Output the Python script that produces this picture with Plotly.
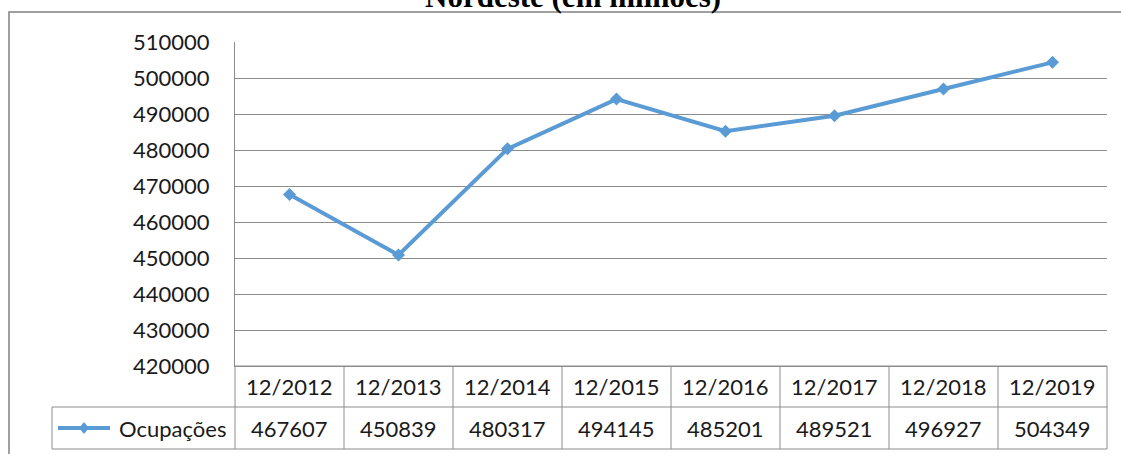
import plotly.graph_objects as go

categories = ["12/2012", "12/2013", "12/2014", "12/2015", "12/2016", "12/2017", "12/2018", "12/2019"]
ocupacoes = [467607, 450839, 480317, 494145, 485201, 489521, 496927, 504349]
series_name = "Ocupações"
title_text = "Nordeste (em milhões)"
y_min, y_max, y_step = 420000, 510000, 10000

W, H = 1121, 454
L, R, T, B = 235, 1107, 42, 366
PW, PH = R - L, B - T

def px(xp):
    return (xp - L) / PW

def py(yp):
    return (B - yp) / PH

BLUE = "#5B9BD5"
GRID = "#8c8c8c"
FRAME = "#808080"
TXT = "#1a1a1a"
FONT = "Lato"

fig = go.Figure()
fig.add_trace(go.Scatter(
    x=categories, y=ocupacoes, mode="lines+markers", name=series_name,
    line=dict(color=BLUE, width=4),
    marker=dict(symbol="diamond", size=10, color=BLUE),
    showlegend=False, hoverinfo="skip",
))

n = len(categories)
row1_top, row1_bot, row2_bot = 366, 407, 449
leg_left = 52
shapes = []
line_style = dict(color=GRID, width=1)
# frame
shapes.append(dict(type="rect", xref="paper", yref="paper",
                   x0=px(9), x1=px(W + 10), y0=py(H + 10), y1=py(12),
                   line=dict(color=FRAME, width=1.5), layer="below"))
# table horizontal lines
shapes.append(dict(type="line", xref="paper", yref="paper", x0=0, x1=1, y0=py(row1_top), y1=py(row1_top), line=line_style))
for yy in (row1_bot, row2_bot):
    shapes.append(dict(type="line", xref="paper", yref="paper", x0=px(leg_left), x1=1, y0=py(yy), y1=py(yy), line=line_style))
# verticals
shapes.append(dict(type="line", xref="paper", yref="paper", x0=px(leg_left), x1=px(leg_left), y0=py(row1_bot), y1=py(row2_bot), line=line_style))
for k in range(n + 1):
    shapes.append(dict(type="line", xref="paper", yref="paper", x0=k / n, x1=k / n, y0=py(row1_top), y1=py(row2_bot), line=line_style))
# legend symbol
leg_y = py((row1_bot + row2_bot) / 2)
shapes.append(dict(type="line", xref="paper", yref="paper", x0=px(58), x1=px(110), y0=leg_y, y1=leg_y,
                   line=dict(color=BLUE, width=4)))
shapes.append(dict(type="path", xref="paper", yref="paper", xsizemode="pixel", ysizemode="pixel",
                   xanchor=px(84), yanchor=leg_y, path="M0,6 L5,0 L0,-6 L-5,0 Z",
                   fillcolor=BLUE, line=dict(color=BLUE, width=0)))

annotations = []
for c, v in zip(categories, ocupacoes):
    annotations.append(dict(x=c, xref="x", xanchor="center", y=py((row1_top + row1_bot) / 2), yref="paper",
                            yanchor="middle", text=c, showarrow=False,
                            font=dict(family=FONT, size=22, color=TXT)))
    annotations.append(dict(x=c, xref="x", xanchor="center", y=py((row1_bot + row2_bot) / 2), yref="paper",
                            yanchor="middle", text=str(v), showarrow=False,
                            font=dict(family=FONT, size=22, color=TXT)))
annotations.append(dict(x=px(228), xref="paper", xanchor="right", y=py((row1_bot + row2_bot) / 2), yref="paper",
                        yanchor="middle", text=series_name, showarrow=False,
                        font=dict(family=FONT, size=22, color=TXT)))
annotations.append(dict(x=px(573), xref="paper", xanchor="center", y=py(16), yref="paper", yanchor="bottom",
                        text="<b>" + title_text + "</b>", showarrow=False,
                        font=dict(family="Liberation Serif", size=31, color="#000000")))

fig.update_layout(
    width=W, height=H,
    margin=dict(l=L, r=W - R, t=T, b=H - B, pad=0),
    paper_bgcolor="white", plot_bgcolor="white",
    shapes=shapes, annotations=annotations,
    xaxis=dict(type="category", range=[-0.5, n - 0.5], showticklabels=False, showgrid=False,
               showline=True, linecolor=GRID, linewidth=1, zeroline=False, fixedrange=True),
    yaxis=dict(range=[y_min, y_max], dtick=y_step, tick0=y_min, tickformat="d",
               showgrid=True, gridcolor=GRID, gridwidth=1, showline=True, linecolor=GRID,
               linewidth=1, zeroline=False, ticks="", ticklabelstandoff=20,
               tickfont=dict(family=FONT, size=22, color=TXT)),
)
fig.write_html("out.html", config={"displayModeBar": False},
               post_script="document.body.style.margin='0';document.body.style.overflow='hidden';")
